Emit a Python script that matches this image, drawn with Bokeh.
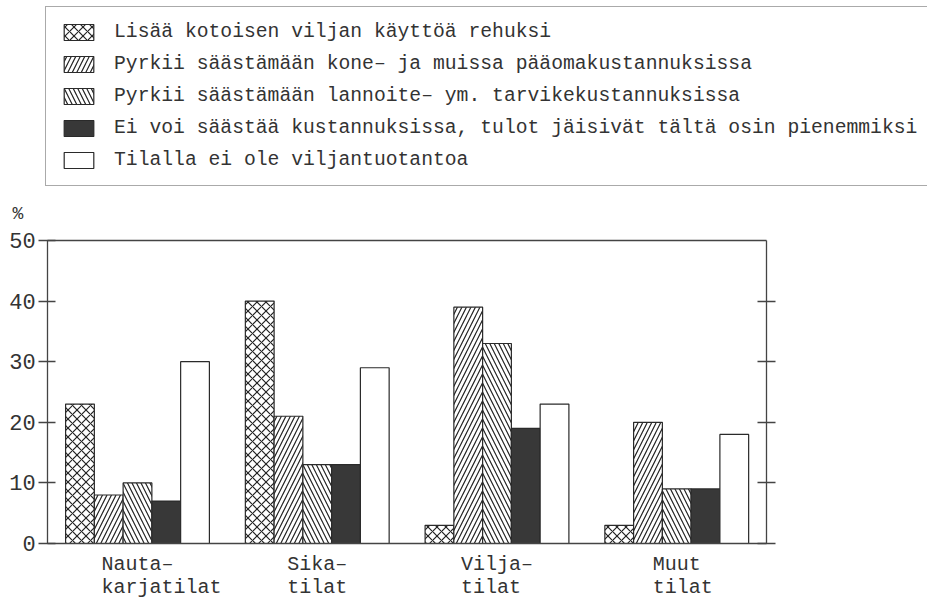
from bokeh.plotting import figure
from bokeh.models import (ColumnDataSource, Range1d, LinearAxis, FixedTicker,
                          Legend, LegendItem, Label)
from bokeh.core.properties import value
from bokeh.transform import dodge
from bokeh.embed import file_html
from bokeh.resources import INLINE

groups = ["Nauta–\nkarjatilat", "Sika–\ntilat", "Vilja–\ntilat", "Muut\ntilat"]
series_names = [
    "Lisää kotoisen viljan käyttöä rehuksi",
    "Pyrkii säästämään kone– ja muissa pääomakustannuksissa",
    "Pyrkii säästämään lannoite– ym. tarvikekustannuksissa",
    "Ei voi säästää kustannuksissa, tulot jäisivät tältä osin pienemmiksi",
    "Tilalla ei ole viljantuotantoa",
]
rehu = [23, 40, 3, 3]
kone = [8, 21, 39, 20]
lannoite = [10, 13, 33, 9]
ei_voi = [7, 13, 19, 9]
ei_vilja = [30, 29, 23, 18]
y_ticks = [0, 10, 20, 30, 40, 50]
y_unit = "%"

FONT = "Liberation Mono"
INK = "#333333"
AX = "#444444"

# ---- layout (pixels inside the canvas) ----
W, H = 927, 599
px_group = 179.75          # width of one group slot
x0_px = 137                # centre of first group
y0_px, y50_px = 543, 240   # pixel rows of 0 and 50
ymin_v, ymax_v = y_ticks[0], y_ticks[-1]
py = (y0_px - y50_px) / (ymax_v - ymin_v)

n = len(groups)
xs = list(range(n))
x_range = Range1d(-x0_px / px_group, (W - x0_px) / px_group)
y_range = Range1d(ymin_v - (H - y0_px) / py, ymax_v + y50_px / py)

CAT_FS = 20
first_lines = [g.split("\n")[0] for g in groups]
source = ColumnDataSource(dict(
    x=xs, label=groups, base=[ymin_v] * n,
    xoff=[-len(f) * 0.6 * CAT_FS / 2 for f in first_lines],
    rehu=rehu, kone=kone, lannoite=lannoite, ei_voi=ei_voi, ei_vilja=ei_vilja))

p = figure(width=W, height=H, x_range=x_range, y_range=y_range,
           x_axis_type=None, y_axis_type=None,
           output_backend="svg", toolbar_location=None,
           min_border=0, min_border_left=0, min_border_right=0,
           min_border_top=0, min_border_bottom=0)
p.background_fill_color = "white"
p.border_fill_color = "white"
p.outline_line_color = None
p.grid.visible = False

styles = [
    dict(col="rehu", fill_color="white", hatch_pattern="diagonal_cross", hatch_scale=9),
    dict(col="kone", fill_color="white", hatch_pattern="right_diagonal_line", hatch_scale=9),
    dict(col="lannoite", fill_color="white", hatch_pattern="left_diagonal_line", hatch_scale=9),
    dict(col="ei_voi", fill_color="#383838", hatch_pattern=None, hatch_scale=9),
    dict(col="ei_vilja", fill_color="white", hatch_pattern=None, hatch_scale=9),
]
bw = 0.16
offsets = [-0.32, -0.16, 0.0, 0.16, 0.32]
items = []
for st, off, name in zip(styles, offsets, series_names):
    kw = dict(fill_color=st["fill_color"], line_color="#2a2a2a", line_width=1.2)
    if st["hatch_pattern"]:
        kw.update(hatch_pattern=st["hatch_pattern"], hatch_scale=st["hatch_scale"],
                  hatch_color="#222222", hatch_weight=1.2)
    r = p.vbar(x=dodge("x", off), top=st["col"], width=bw, source=source, **kw)
    items.append(LegendItem(label=name, renderers=[r]))

x_lo, x_hi = xs[0] - 0.5, xs[-1] + 0.5


def style_axis(ax):
    ax.minor_tick_line_color = None
    ax.axis_line_color = AX
    ax.axis_line_width = 1.3
    ax.major_tick_line_color = AX
    ax.major_tick_line_width = 1.3


ya = LinearAxis(ticker=FixedTicker(ticks=y_ticks), fixed_location=x_lo,
                bounds=(ymin_v, ymax_v))
style_axis(ya)
ya.major_tick_in = 8
ya.major_tick_out = 9
ya.major_label_text_font = FONT
ya.major_label_text_font_size = "22px"
ya.major_label_text_color = INK
ya.major_label_standoff = 3
p.add_layout(ya, "left")

ra = LinearAxis(ticker=FixedTicker(ticks=y_ticks[:-1]), fixed_location=x_hi,
                bounds=(ymin_v, ymax_v))
style_axis(ra)
ra.major_tick_in = 9
ra.major_tick_out = 9
ra.major_label_overrides = {t: "" for t in y_ticks}
p.add_layout(ra, "right")

for loc, side in ((ymin_v, "below"), (ymax_v, "above")):
    hx = LinearAxis(ticker=FixedTicker(ticks=[]), fixed_location=loc,
                    bounds=(x_lo, x_hi))
    style_axis(hx)
    hx.major_tick_line_color = None
    p.add_layout(hx, side)

# category labels under the bars
p.text(x="x", y="base", text="label", x_offset="xoff", y_offset=9, source=source,
       text_font=value(FONT), text_font_size=value(f"{CAT_FS}px"), text_color=INK,
       text_align="left", text_baseline="top", text_line_height=1.0)

# unit label
p.add_layout(Label(x=12, y=H - 213, x_units="screen", y_units="screen", text=y_unit,
                   text_font=FONT, text_font_size="18px", text_color=INK,
                   text_baseline="alphabetic"))

legend = Legend(items=items, location=(45, H - 186), orientation="vertical",
                glyph_width=37, glyph_height=20, spacing=10, padding=14, margin=0,
                label_standoff=17, label_width=800, label_height=20,
                label_text_font=FONT, label_text_font_size="19.7px",
                label_text_color=INK, border_line_color="#555555",
                border_line_width=1.3, background_fill_alpha=1.0)
p.add_layout(legend, "center")

open("out.html", "w").write(file_html(p, INLINE))
